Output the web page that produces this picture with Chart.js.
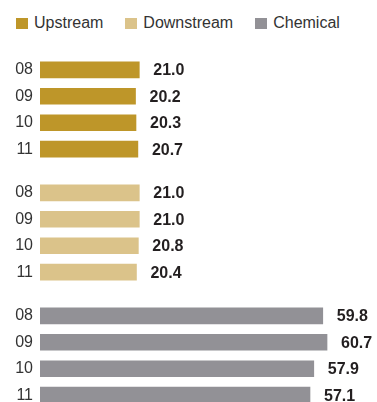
<!DOCTYPE html>
<html>
<head>
<meta charset="utf-8">
<script src="https://cdn.jsdelivr.net/npm/chart.js@4"></script>
<style>
	html, body { margin: 0; padding: 0; background: #fff; }
	body { width: 377px; height: 402px; overflow: hidden; position: relative; font-family: "Liberation Sans", Arial, sans-serif; }
	.legend { position: absolute; left: 16px; top: 14px; display: flex; align-items: center; gap: 22px; font-size: 16px; color: #333; line-height: 18px; }
	.legend span.item { display: flex; align-items: center; }
	.legend i { display: inline-block; width: 12px; height: 11px; margin-right: 6px; }
	/* the y axis keeps ~16.6px above and below the bars for its labels */
	.box { position: absolute; left: 0; width: 377px; height: 139px; }
</style>
</head>
<body>

<div class="legend" id="legend"></div>

<div class="box" style="top:40px"><canvas id="chart-1"></canvas></div>
<div class="box" style="top:163px"><canvas id="chart-2"></canvas></div>
<div class="box" style="top:286px"><canvas id="chart-3"></canvas></div>

<script>
var years = ['08', '09', '10', '11'];
var upstream = [21.0, 20.2, 20.3, 20.7];
var downstream = [21.0, 21.0, 20.8, 20.4];
var chemical = [59.8, 60.7, 57.9, 57.1];

var segmentNames = ['Upstream', 'Downstream', 'Chemical'];
var segmentColours = ['#BE9629', '#DBC38A', '#929196'];

//Legend along the top
var legend = document.getElementById('legend');
for (var i = 0; i < segmentNames.length; i++) {
	var item = document.createElement('span');
	item.className = 'item';
	var swatch = document.createElement('i');
	swatch.style.background = segmentColours[i];
	item.appendChild(swatch);
	item.appendChild(document.createTextNode(segmentNames[i]));
	legend.appendChild(item);
}

//Writes the value just past the end of each bar
var valueLabels = {
	id: 'valueLabels',
	afterDatasetsDraw: function(chart) {
		var ctx = chart.ctx;
		var meta = chart.getDatasetMeta(0);
		var values = chart.data.datasets[0].data;
		ctx.save();
		ctx.font = 'bold 16px "Liberation Sans", Arial, sans-serif';
		ctx.fillStyle = '#231f20';
		ctx.textAlign = 'left';
		ctx.textBaseline = 'middle';
		meta.data.forEach(function(bar, index) {
			ctx.fillText(values[index].toFixed(1), bar.x + 14, bar.y + 1);
		});
		ctx.restore();
	}
};

function makeSegmentChart(canvasId, values, colour) {
	return new Chart(canvasId, {
		type: 'bar',
		data: {
			labels: years,
			datasets: [{
				data: values,
				backgroundColor: colour,
				barThickness: 16,
				borderWidth: 0
			}]
		},
		options: {
			indexAxis: 'y',
			animation: false,
			maintainAspectRatio: false,
			responsive: true,
			layout: { padding: { top: 0, bottom: 0, left: 0, right: 6 } },
			plugins: {
				legend: { display: false },
				tooltip: { enabled: false }
			},
			scales: {
				x: {
					display: false,
					min: 0,
					max: 70
				},
				y: {
					grid: { display: false, drawTicks: false },
					border: { display: false },
					ticks: {
						padding: 7,
						color: '#333',
						font: { family: '"Liberation Sans", Arial, sans-serif', size: 16 }
					},
					afterFit: function(scale) { scale.width = 40; }
				}
			}
		},
		plugins: [valueLabels]
	});
}

makeSegmentChart('chart-1', upstream, segmentColours[0]);
makeSegmentChart('chart-2', downstream, segmentColours[1]);
makeSegmentChart('chart-3', chemical, segmentColours[2]);
</script>
</body>
</html>
